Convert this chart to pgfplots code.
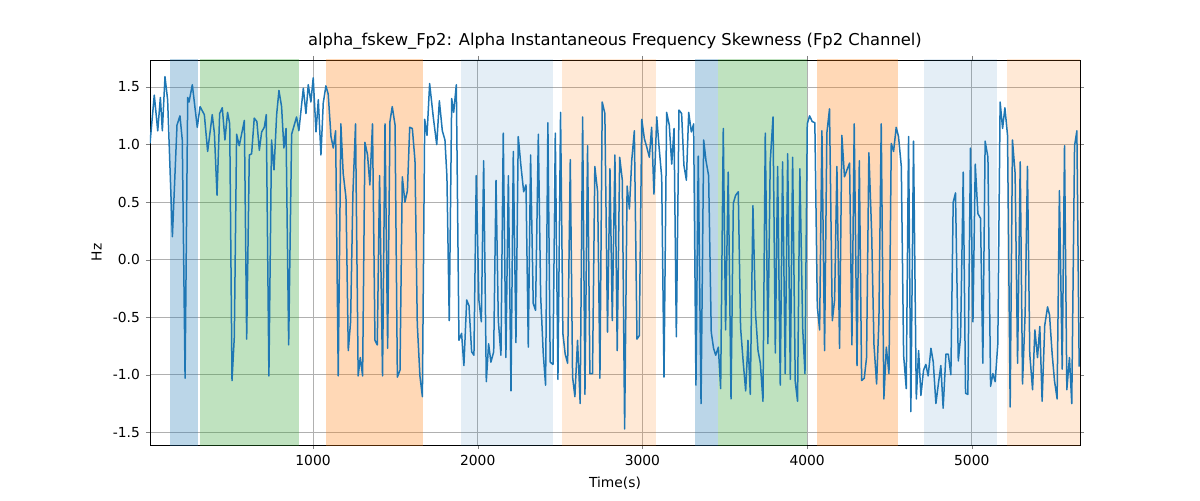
\documentclass[border=0pt]{standalone}
\usepackage{pgfplots}
\pgfplotsset{compat=1.18}
\usepackage{fontspec}
\setmainfont{DejaVu Sans}
\definecolor{cA}{HTML}{1F77B4}
\definecolor{cG}{HTML}{2CA02C}
\definecolor{cO}{HTML}{FF7F0E}
\begin{document}
\begin{tikzpicture}
\useasboundingbox (-90pt,-33pt) rectangle (630pt,267pt);
\begin{axis}[at={(0,0)},anchor=south west,scale only axis,width=558pt,height=231pt,
xmin=10,xmax=5657,ymin=-1.61,ymax=1.735,
xtick={1000,2000,3000,4000,5000},ytick={-1.5,-1,-0.5,0,0.5,1,1.5},
xticklabel style={/pgf/number format/1000 sep={}},
yticklabel style={/pgf/number format/fixed,/pgf/number format/precision=1,/pgf/number format/fixed zerofill},
/pgf/number format/assume math mode=true,
tick label style={font=\fontsize{8.3}{10}\selectfont},
xmajorgrids,ymajorgrids,grid style={color=black!31,line width=0.5pt},
tick align=outside,major tick length=2.5pt,
xlabel={Time(s)},ylabel={Hz},label style={font=\fontsize{8.3}{10}\selectfont},
title={alpha\_fskew\_Fp2: Alpha Instantaneous Frequency Skewness (Fp2 Channel)},
title style={font=\fontsize{9.8}{12}\selectfont,yshift=-3pt}]
\fill[cA,opacity=0.3] (axis cs:132,-2) rectangle (axis cs:302,2);
\fill[cG,opacity=0.3] (axis cs:314,-2) rectangle (axis cs:915,2);
\fill[cO,opacity=0.3] (axis cs:1080,-2) rectangle (axis cs:1669,2);
\fill[cA,opacity=0.12] (axis cs:1900,-2) rectangle (axis cs:2457,2);
\fill[cO,opacity=0.17] (axis cs:2513,-2) rectangle (axis cs:3083,2);
\fill[cA,opacity=0.3] (axis cs:3320,-2) rectangle (axis cs:3460,2);
\fill[cG,opacity=0.3] (axis cs:3460,-2) rectangle (axis cs:4000,2);
\fill[cO,opacity=0.3] (axis cs:4060,-2) rectangle (axis cs:4552,2);
\fill[cA,opacity=0.12] (axis cs:4710,-2) rectangle (axis cs:5153,2);
\fill[cO,opacity=0.17] (axis cs:5214,-2) rectangle (axis cs:5700,2);
\addplot[cA,line width=0.9pt,line join=round] coordinates {
(10,1.01)(36,1.43)(57,1.12)(73,1.41)(85,1.12)(101,1.59)(117,1.39)(146,0.2)(174,1.17)(192,1.25)(206,1.04)(223,-1.03)(239,1.41)(247,1.37)(267,1.52)(297,1.15)(314,1.33)(340,1.26)(360,0.94)(388,1.26)(401,1.1)(417,0.56)(433,1.27)(449,1.32)(465,1.04)(481,1.28)(494,1.18)(508,-1.05)(522,-0.67)(536,1.09)(552,0.99)(583,1.21)(597,-0.69)(613,0.91)(627,0.92)(643,1.23)(659,1.2)(674,0.95)(688,1.11)(704,1.15)(716,1.26)(732,-1.01)(748,1.04)(763,0.78)(779,1.26)(793,1.47)(809,1.33)(823,0.97)(836,1.14)(852,-0.74)(870,1.09)(900,1.24)(914,1.12)(941,1.49)(957,1.27)(971,1.52)(987,1.37)(1001,1.58)(1018,1.11)(1032,1.39)(1048,0.91)(1062,1.36)(1078,1.51)(1092,1.44)(1109,1.07)(1123,0.97)(1137,1.12)(1153,-1.01)(1169,1.18)(1183,0.75)(1200,0.54)(1214,-0.79)(1228,-0.54)(1242,0.57)(1258,1.18)(1274,-1.01)(1287,-0.85)(1301,-1.01)(1315,1.02)(1331,0.91)(1345,0.65)(1361,1.18)(1376,-0.7)(1390,-0.74)(1404,0.73)(1422,-1.01)(1437,1.18)
(1453,-0.77)(1467,1.2)(1481,1.33)(1498,1.17)(1512,-1.02)(1528,-0.96)(1542,0.72)(1558,0.5)(1573,0.6)(1587,1.15)(1603,1.14)(1619,0.86)(1633,-0.56)(1649,-1.01)(1664,-1.19)(1678,1.22)(1692,1.08)(1708,1.53)(1730,1.24)(1751,1.0)(1767,1.38)(1785,1.12)(1801,1.04)(1813,0.72)(1827,-0.53)(1842,1.4)(1854,1.28)(1870,1.52)(1886,-0.7)(1902,-0.64)(1916,-0.92)(1933,-0.35)(1947,-0.4)(1963,-0.8)(1977,-0.83)(1991,0.73)(2007,-0.35)(2022,-0.54)(2036,0.86)(2052,-1.06)(2066,-0.73)(2080,-0.89)(2097,-0.8)(2111,0.69)(2125,-0.53)(2141,-0.83)(2155,1.1)(2171,-0.85)(2186,0.73)(2202,-1.14)(2216,0.94)(2232,-0.72)(2246,1.07)(2262,0.82)(2279,0.59)(2293,0.65)(2307,-0.76)(2321,0.91)(2337,-0.38)(2351,-0.44)(2368,1.09)(2382,-0.31)(2398,-0.82)(2412,-1.09)(2426,1.19)(2440,-0.89)(2457,-0.91)(2471,1.1)(2487,-1.04)(2503,1.28)(2517,-0.64)(2531,-0.82)(2546,-0.9)(2562,0.87)(2576,-1.02)(2590,-1.19)(2606,-0.7)(2622,-1.25)(2637,1.24)(2651,-1.17)(2667,0.99)(2681,-0.99)(2697,-0.99)(2711,0.81)(2728,0.59)(2742,-1.03)(2756,1.37)(2772,1.27)(2788,-0.63)(2803,0.79)(2817,-0.53)(2833,0.91)(2847,-0.79)
(2862,0.89)(2878,0.69)(2892,-1.47)(2907,0.64)(2921,0.44)(2935,0.86)(2951,1.12)(2967,-0.69)(2981,-0.66)(2996,1.22)(3012,1.05)(3028,0.97)(3042,0.89)(3056,1.15)(3070,0.57)(3087,1.24)(3101,0.98)(3117,0.72)(3131,-1.02)(3147,1.28)(3163,1.17)(3178,0.83)(3192,1.14)(3206,-0.67)(3222,1.3)(3238,1.27)(3252,0.82)(3267,0.69)(3281,1.28)(3297,1.11)(3311,1.18)(3325,-1.09)(3339,0.9)(3356,-1.25)(3372,1.04)(3386,0.86)(3402,0.73)(3418,-0.63)(3432,-0.77)(3445,-0.83)(3461,-0.76)(3475,-1.12)(3491,1.14)(3505,-0.61)(3521,0.76)(3538,-1.21)(3552,0.49)(3566,0.56)(3582,0.59)(3596,-0.59)(3612,-0.89)(3627,-1.14)(3641,-0.7)(3655,-1.17)(3671,0.47)(3687,-0.47)(3702,-0.79)(3716,-0.9)(3732,-1.23)(3746,1.1)(3762,-0.73)(3776,0.85)(3793,1.24)(3807,-0.81)(3821,0.81)(3837,-1.09)(3851,0.85)(3867,-0.99)(3882,0.92)(3898,-1.04)(3912,0.89)(3928,-1.06)(3942,-1.23)(3956,0.79)(3973,-0.59)(3987,-0.99)(4001,1.18)(4015,1.25)(4031,1.2)(4047,1.19)(4062,-0.41)(4076,-0.61)(4090,1.12)(4106,-0.79)(4120,1.1)(4136,1.31)(4153,-0.53)(4167,-0.35)(4181,0.81)(4197,-0.77)(4211,1.08)(4227,0.72)(4242,0.78)
(4258,0.84)(4272,-0.74)(4286,1.18)(4303,-0.92)(4317,0.86)(4331,-1.05)(4347,-1.03)(4361,-0.85)(4375,0.93)(4392,0.23)(4406,-0.74)(4422,-1.08)(4436,-0.53)(4450,1.18)(4466,-1.21)(4481,-0.76)(4497,-0.99)(4511,1.01)(4525,0.94)(4541,1.15)(4555,1.07)(4572,0.81)(4586,-0.83)(4602,-1.12)(4616,1.07)(4630,-1.32)(4646,1.03)(4663,-1.21)(4677,-0.79)(4691,-1.18)(4707,-0.96)(4721,-0.91)(4735,-1.01)(4752,-0.77)(4766,-0.89)(4782,-1.25)(4796,-1.09)(4812,-0.92)(4826,-1.29)(4843,-0.82)(4857,-0.82)(4873,-1.0)(4887,0.5)(4901,0.58)(4918,-0.88)(4932,-0.67)(4948,0.76)(4962,-1.16)(4976,-1.17)(4992,0.97)(5007,-0.54)(5021,0.83)(5037,0.4)(5053,0.36)(5067,-0.9)(5081,1.03)(5098,0.89)(5114,-1.1)(5128,-0.99)(5142,-1.06)(5158,-0.73)(5172,1.37)(5187,1.14)(5201,1.32)(5217,1.08)(5233,-1.28)(5247,1.04)(5263,0.75)(5278,-0.9)(5294,0.85)(5308,-1.08)(5324,-0.46)(5338,0.81)(5352,-0.82)(5369,-1.13)(5383,-0.61)(5399,-0.85)(5413,-0.58)(5427,-1.23)(5443,-0.57)(5460,-0.41)(5472,-0.48)(5488,-0.82)(5502,-1.05)(5518,-1.21)(5532,0.6)(5549,-0.95)(5563,0.99)(5577,-1.13)(5593,-0.85)(5607,-1.25)(5624,0.99)(5638,1.12)(5652,-0.93)
};
\end{axis}
\end{tikzpicture}
\end{document}
